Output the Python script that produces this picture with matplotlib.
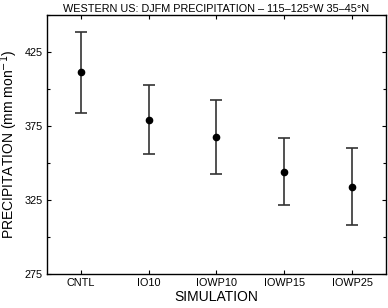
import matplotlib
matplotlib.use('Agg')
import matplotlib.pyplot as plt
from matplotlib.ticker import MultipleLocator

plt.rcParams['font.family'] = ['Liberation Sans', 'DejaVu Sans']

simulations = ['CNTL', 'IO10', 'IOWP10', 'IOWP15', 'IOWP25']
precip_mean = [411.5, 379.5, 367.6, 344.3, 334.2]
precip_err = [27.2, 23.5, 25.0, 22.8, 25.9]
y_ticks = [275, 325, 375, 425]


def main():
    fig = plt.figure(figsize=(3.88, 3.08), dpi=100)
    ax = fig.add_axes([0.1211, 0.1104, 0.8737, 0.8393])

    x = list(range(len(simulations)))
    ax.errorbar(x, precip_mean, yerr=precip_err, fmt='o', color='black',
                ecolor='#333333', elinewidth=1.2, capsize=4.5, capthick=1.2,
                markersize=4.5)

    ax.set_xlim(-0.5, 4.5)
    ax.set_ylim(275, 450)
    ax.set_xticks(x)
    ax.set_xticklabels(simulations)
    ax.set_yticks(y_ticks)
    ax.yaxis.set_minor_locator(MultipleLocator(25))

    ax.tick_params(which='both', direction='in', top=True, right=True,
                   labelsize=7.8, width=0.8, pad=3)
    ax.tick_params(which='major', length=3)
    ax.tick_params(which='minor', length=2.5)
    for s in ax.spines.values():
        s.set_linewidth(1.0)

    ax.set_title('WESTERN US: DJFM PRECIPITATION \u2013 115\u2013125\u00b0W 35\u201345\u00b0N',
                 fontsize=7.8, pad=2.5)
    ax.set_xlabel('SIMULATION', fontsize=10, labelpad=1)
    ax.set_ylabel('PRECIPITATION (mm mon$^{-1}$)', fontsize=10, labelpad=3)

    fig.savefig('out.png', dpi=100)


if __name__ == '__main__':
    main()
